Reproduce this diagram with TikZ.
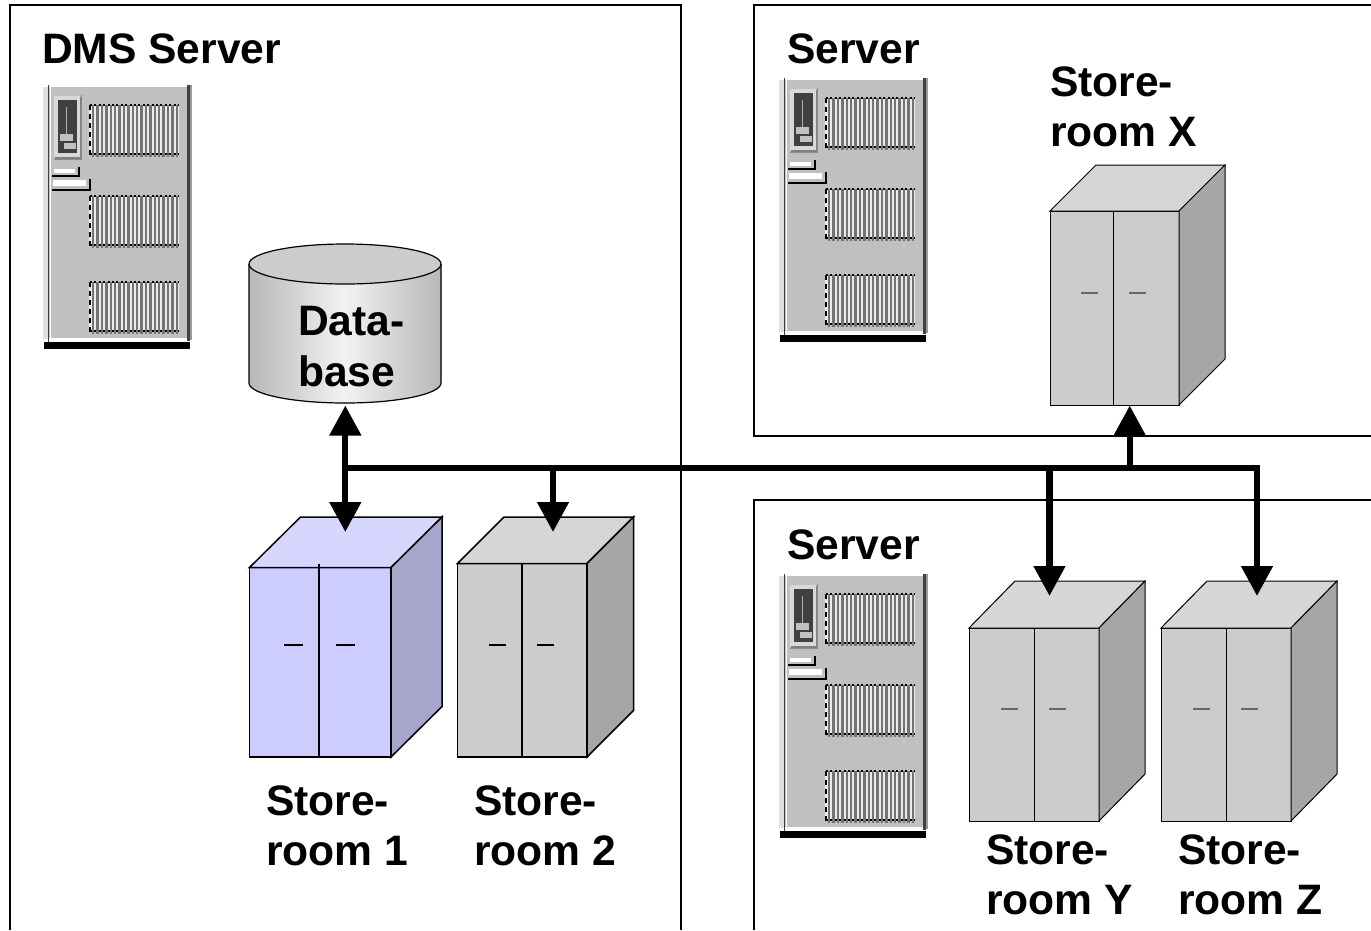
\documentclass[tikz,border=0pt]{standalone}
\usepackage{fontspec}
\setmainfont{Liberation Sans}
\usetikzlibrary{arrows.meta,calc}
\definecolor{cabfront}{HTML}{CCCCCC}
\definecolor{cabtop}{HTML}{D6D6D6}
\definecolor{cabside}{HTML}{A6A6A6}
\definecolor{bluefront}{HTML}{CCCCFF}
\definecolor{bluetop}{HTML}{D6D6FF}
\definecolor{blueside}{HTML}{A6A6CC}
\definecolor{srvgray}{HTML}{C0C0C0}
\tikzset{
  frameline/.style={draw=black,line width=2pt},
  lbl/.style={font=\fontsize{42.6}{50.5}\selectfont\bfseries,anchor=base west,align=left,inner sep=0pt,outer sep=0pt},
  bus/.style={draw=black,line width=6.3pt,line cap=butt,line join=miter},
  busarrow/.style={bus,-{Triangle[length=30pt,width=30.5pt]}},
  busboth/.style={bus,{Triangle[length=30pt,width=30.5pt]}-{Triangle[length=30pt,width=30.5pt]}},
  handleStrong/.style={draw=black,line width=1.4pt},
  handleSoft/.style={draw=black!60,line width=1.4pt},
  server/.pic={
    % body (origin = top-left of the body)
    \fill[black!12] (-1,1) rectangle (4,254);
    \fill[srvgray] (5,2) rectangle (148,254);
    \fill[black!40] (145,0) rectangle (148,255);
    \fill[black!75] (143,0) rectangle (145.5,256);
    \fill[white] (-3,0) rectangle (143,1.5);
    \fill[white] (6,2) rectangle (7,256);
    \fill[white] (4,253) rectangle (143,256);
    \draw[black!75,line width=1.2pt] (4.5,0) -- (4.5,257);
    \fill[black] (0,257) rectangle (146,264);
    % switch panel
    \fill[black!50] (11,12) rectangle (37.5,74.5);
    \fill[white!85!black] (10,11) rectangle (36,71.5);
    \fill[black!75] (13.5,15) rectangle (33,68);
    \draw[black!45,line width=.8pt] (10,74.5) -- (37.5,74.5) -- (37.5,10);
    \draw[white!70!black,line width=1pt] (22,22) -- (22,50);
    \fill[srvgray] (16,49) rectangle (29,56);
    \fill[srvgray] (20,58) rectangle (32,64);
    % small slots
    \fill[white] (10,84) rectangle (31,88);
    \draw[black,line width=2pt] (8,91) -- (35,91) -- (35,82);
    \fill[white] (9,95) rectangle (42,101);
    \draw[black,line width=2pt] (8,104.5) -- (46,104.5) -- (46,94);
    % vents
    \foreach \vy in {20,111,197}{
      \fill[white!92!black] (45,\vy) rectangle (135,\vy+49);
      \foreach \vx in {48,52.4,...,133}{\fill[black!55] (\vx,\vy) rectangle (\vx+2.4,\vy+52);}
      \draw[black,line width=2.4pt,dash pattern=on 5pt off 4pt] (46,\vy) -- (46,\vy+50);
      \draw[black,line width=1.6pt,dash pattern=on 2pt off 2.4pt] (46,\vy) -- (135,\vy);
      \draw[black,line width=1.6pt,dash pattern=on 2pt off 2.4pt] (46,\vy+49) -- (135,\vy+49);
    }
  }
}
% x, y of front top-left; width; height; depth dx; depth dy; divider offset; palette prefix; edge width
\newcommand{\cabinet}[9]{%
  \begin{scope}[shift={(#1,#2)},line join=miter,line width=#9pt]
    \draw[fill=#8front] (0,0) rectangle (#3,#4);
    \draw[fill=#8top] (0,0) -- (#5,-#6) -- (#3+#5,-#6) -- (#3,0) -- cycle;
    \draw[fill=#8side] (#3,0) -- (#3+#5,-#6) -- (#3+#5,#4-#6) -- (#3,#4) -- cycle;
    \draw (#7,0) -- (#7,#4);
  \end{scope}}
\begin{document}
\begin{tikzpicture}[x=1pt,y=-1pt]
\useasboundingbox (0,0) rectangle (1371,930);
% frames
\coordinate (dmsBL) at (10,930);\coordinate (dmsTL) at (10,5);\coordinate (dmsTR) at (681,5);\coordinate (dmsBR) at (681,930);
\draw[frameline] (dmsBL) -- (dmsTL) -- (dmsTR) -- (dmsBR);
\coordinate (xTR) at (1371,5);\coordinate (xTL) at (754,5);\coordinate (xBL) at (754,436);\coordinate (xBR) at (1371,436);
\draw[frameline] (xTR) -- (xTL) -- (xBL) -- (xBR);
\coordinate (yzTR) at (1371,500);\coordinate (yzTL) at (754,500);\coordinate (yzBL) at (754,930);
\draw[frameline] (yzTR) -- (yzTL) -- (yzBL);
% servers
\pic at (44,85) {server};
\pic at (780,78) {server};
\pic at (780,574) {server};
% database
\fill[left color=black!28,right color=black!28,middle color=white!95!black]
  (249,264) -- (249,383) arc[start angle=180,end angle=0,x radius=96,y radius=20] -- (441,264) -- cycle;
\draw[black,line width=1.2pt] (249,264) -- (249,383) arc[start angle=180,end angle=0,x radius=96,y radius=20] -- (441,264);
\draw[black,line width=1.2pt,fill=cabfront] (345,264) ellipse[x radius=96,y radius=20];
% cabinets
\cabinet{249.5}{567.5}{141.5}{189.5}{51}{50.5}{69.5}{blue}{1.5}
\draw[black,line width=1.5pt] (319,564) -- (319,567.5);
\draw[handleStrong] (284,645) -- (303,645) (336,645) -- (355,645);
\cabinet{457.5}{563.5}{129.5}{193.5}{46.5}{46.5}{64.5}{cab}{1.5}
\draw[handleStrong] (489,645) -- (506,645) (537,645) -- (554,645);
\cabinet{1050}{211}{129}{194}{46}{46}{63.5}{cab}{1}
\draw[handleSoft] (1081,293) -- (1098,293) (1129,293) -- (1146,293);
\cabinet{969}{628}{130}{193}{46}{47}{65}{cab}{1}
\draw[handleSoft] (1001,709) -- (1018,709) (1049,709) -- (1066,709);
\cabinet{1161}{628}{130}{193}{46}{47}{65}{cab}{1}
\draw[handleSoft] (1193,709) -- (1210,709) (1241,709) -- (1258,709);
% connectors
\coordinate (dbS) at (345.3,405.5);
\coordinate (sr1T) at (345.3,532);
\coordinate (sr2T) at (553,532);
\coordinate (srxB) at (1129.7,405.5);
\coordinate (sryT) at (1049.5,596);
\coordinate (srzT) at (1257,596);
\coordinate (busW) at (345.3,468);
\coordinate (busA) at (553,468);
\coordinate (busX) at (1129.7,468);
\coordinate (busY) at (1049.5,468);
\coordinate (busE) at (1257,468);
\draw[busboth] (dbS) -- (sr1T);
\draw[bus] (busW) -- ($(busE)+(3.15,0)$);
\draw[busarrow] (busA) -- (sr2T);
\draw[busarrow] (busX) -- (srxB);
\draw[busarrow] (busY) -- (sryT);
\draw[busarrow] (busE) -- (srzT);
% labels
\node[lbl] (tDms) at (42,63) {DMS Server};
\node[lbl] (tSrv1) at (787,63) {Server};
\node[lbl] (tSrv2) at (787,559) {Server};
\node[lbl] (tX) at (1050,146.5) {Store-\\room X};
\node[lbl] (tDb) at (298,386) {Data-\\base};
\node[lbl] (t1) at (266,865.5) {Store-\\room 1};
\node[lbl] (t2) at (474,865.5) {Store-\\room 2};
\node[lbl] (tY) at (986,914.5) {Store-\\room Y};
\node[lbl] (tZ) at (1178,914.5) {Store-\\room Z};
\end{tikzpicture}
\end{document}
